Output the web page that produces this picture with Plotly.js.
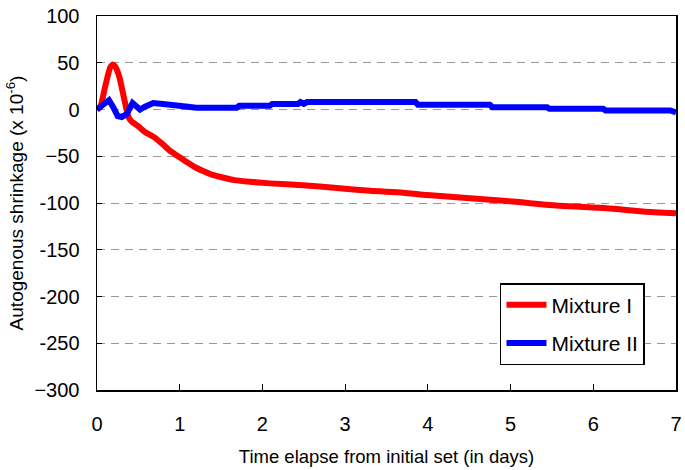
<!DOCTYPE html>
<html>
<head>
<meta charset="utf-8">
<script src="https://cdn.plot.ly/plotly-3.0.1.min.js"></script>
<style>html,body{margin:0;padding:0;background:#fff;}#chart{width:685px;height:470px;}</style>
</head>
<body>
<div id="chart"></div>
<script>
// Mixture I (red)
const mix1Days = [0, 0.04, 0.1, 0.16, 0.19, 0.22, 0.27, 0.32, 0.38, 0.42, 0.5, 0.58, 0.68, 0.78, 0.88, 0.98, 1.08, 1.18, 1.29, 1.4, 1.53, 1.66, 1.81, 2.09, 2.49, 2.9, 3.3, 3.7, 3.99, 4.39, 5.03, 5.6, 6.16, 6.6, 7.0];
const mix1Vals = [0, 3, 25, 45, 48, 46, 35, 15, -8, -13, -18, -24, -29, -36, -44, -50, -56, -61.5, -66, -70, -73, -75.5, -77, -79, -81, -84, -87, -89, -91.5, -94, -98.5, -103, -105.5, -109, -111];
// Mixture II (blue)
const mix2Days = [0, 0.04, 0.1, 0.145, 0.2, 0.25, 0.3, 0.36, 0.43, 0.48, 0.52, 0.58, 0.68, 0.8, 0.98, 1.1, 1.2, 1.69, 1.72, 2.09, 2.12, 2.43, 2.46, 2.5, 2.54, 3.85, 3.88, 4.75, 4.78, 5.44, 5.47, 6.12, 6.15, 6.93, 7.0];
const mix2Vals = [0, 3, 8, 10, 2, -7, -8, -5, 7, 3, 0, 3, 7, 6, 5, 3, 2, 2, 4, 4, 6, 6, 8, 6, 8, 8, 5, 5, 2.5, 2.5, 0.7, 0.7, -1, -1, -3];
const seriesNames = ["Mixture I", "Mixture II"];
const xTicks = [0, 1, 2, 3, 4, 5, 6, 7];
const yTicks = [-300, -250, -200, -150, -100, -50, 0, 50, 100];
const yTickText = ["\u2212300", "-250", "-200", "-150", "-100", "\u221250", "0", "50", "100"];

const font = "Arial, 'Liberation Sans', sans-serif";
const traces = [
  {x: mix1Days, y: mix1Vals, name: seriesNames[0], legendgroup: "g1", mode: "lines", line: {color: "#ff0000", width: 6, shape: "spline", smoothing: 0.6}},
  {x: mix2Days, y: mix2Vals, name: seriesNames[1], legendgroup: "g2", mode: "lines", line: {color: "#0000ff", width: 6}}
];
const layout = {
  width: 685, height: 470,
  margin: {l: 97, r: 9, t: 16, b: 80},
  paper_bgcolor: "#fff", plot_bgcolor: "#fff",
  font: {family: font, color: "#000", size: 20},
  showlegend: true,
  legend: {x: 0.696, y: 0.286, xanchor: "left", yanchor: "top", bgcolor: "#fff",
    bordercolor: "#000", borderwidth: 1.5, font: {size: 21, family: font},
    tracegroupgap: 8, itemwidth: 40},
  xaxis: {range: [0, 7], tickvals: xTicks, ticktext: xTicks.map(String), ticks: "inside", ticklen: 6,
    tickcolor: "#000", showline: true, linecolor: "#000", linewidth: 1.5, mirror: true,
    showgrid: false, zeroline: false, ticklabelstandoff: 15, tickfont: {size: 20},
    title: {text: "Time elapse from initial set (in days)", font: {size: 18.5}, standoff: 16}},
  yaxis: {range: [-300, 100], tickvals: yTicks, ticktext: yTickText, ticks: "inside", ticklen: 5,
    tickcolor: "#000", showline: true, linecolor: "#000", linewidth: 1.5, mirror: true,
    showgrid: true, gridcolor: "#999", griddash: "8px,6px", gridwidth: 1, zeroline: false,
    ticklabelstandoff: 12, tickfont: {size: 20},
    title: {text: "Autogenous shrinkage (x 10<sup>-6</sup>)", font: {size: 19}, standoff: 6}}
};
Plotly.newPlot("chart", traces, layout, {displayModeBar: false, staticPlot: true});
</script>
</body>
</html>
